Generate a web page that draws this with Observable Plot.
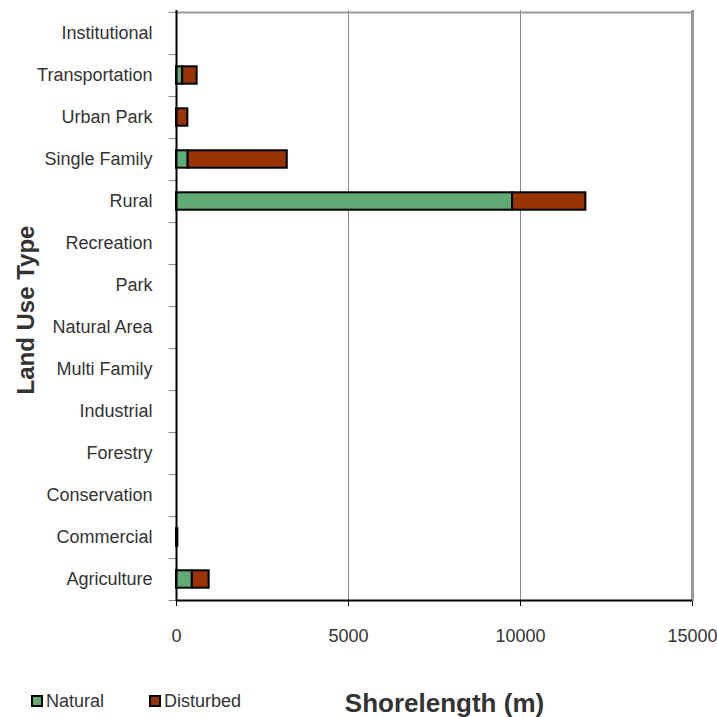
<!DOCTYPE html>
<html>
<head>
<meta charset="utf-8">
<script src="https://cdn.jsdelivr.net/npm/d3@7"></script>
<script src="https://cdn.jsdelivr.net/npm/@observablehq/plot@0.6"></script>
<style>
  body { margin: 0; background: #fff; }
  #wrap { position: relative; width: 717px; height: 717px; font-family: "Liberation Sans", Arial, sans-serif; color: #333; }
  .leg { position: absolute; top: 689px; font-size: 18px; line-height: 24px; display: flex; align-items: center; }
  .sw { display: inline-block; width: 8px; height: 8px; border: 2px solid #000; margin-right: 3px; }
</style>
</head>
<body>
<div id="wrap"></div>
<script>
const categories = ["Institutional", "Transportation", "Urban Park", "Single Family", "Rural", "Recreation", "Park", "Natural Area", "Multi Family", "Industrial", "Forestry", "Conservation", "Commercial", "Agriculture"];
const natural   = [0, 180, 0, 340, 9770, 0, 0, 0, 0, 0, 0, 0, 0, 460];
const disturbed = [0, 420, 330, 2880, 2130, 0, 0, 0, 0, 0, 0, 0, 40, 490];
const series = ["Natural", "Disturbed"];
const seriesColors = ["#60aa73", "#993300"];
const xTicks = [0, 5000, 10000, 15000];

const rows = [];
categories.forEach((c, i) => {
  rows.push({type: c, series: "Natural", value: natural[i]});
  rows.push({type: c, series: "Disturbed", value: disturbed[i]});
});
const data = rows.filter(d => d.value > 0);

const font = "'Liberation Sans', Arial, sans-serif";
const H = 717, mTop = 10, mBottom = 116;
const step = (H - mTop - mBottom) / categories.length;

const chart = Plot.plot({
  width: 717,
  height: H,
  marginLeft: 176,
  marginRight: 25,
  marginTop: mTop,
  marginBottom: mBottom,
  style: {fontFamily: font, fontSize: "18px", color: "#333", background: "#fff"},
  x: {domain: [0, 15000]},
  y: {domain: categories, padding: 0},
  color: {domain: series, range: seriesColors},
  marks: [
    Plot.ruleX([5000, 10000], {stroke: "#888", strokeWidth: 1}),
    Plot.ruleX([15000], {stroke: "#999", strokeWidth: 3}),
    Plot.ruleY([categories[0]], {dy: -step / 2, stroke: "#999", strokeWidth: 2}),
    Plot.barX(data, Plot.stackX({
      x: "value", y: "type", fill: "series",
      order: series,
      stroke: "#000", strokeWidth: 2,
      insetTop: 12.3, insetBottom: 12.3
    })),
    // band boundary ticks on the y axis
    Plot.ruleY(categories, {x1: -220, x2: 0, dy: step / 2, stroke: "#888", strokeWidth: 1}),
    Plot.ruleY([categories[0]], {x1: -220, x2: 0, dy: -step / 2, stroke: "#888", strokeWidth: 1}),
    Plot.ruleX([0], {stroke: "#000", strokeWidth: 2}),
    Plot.ruleY([categories[categories.length - 1]], {dy: step / 2, stroke: "#000", strokeWidth: 2}),
    Plot.axisY({tickSize: 0, tickPadding: 24, label: null, fontSize: 18, fill: "#333"}),
    Plot.axisX({ticks: xTicks, tickFormat: d3.format("d"), tickSize: 5, tickPadding: 23, label: null, fontSize: 18, fill: "#333", stroke: "#000"}),
    Plot.text(["Land Use Type"], {frameAnchor: "left", textAnchor: "middle", dx: -150, dy: 4, rotate: -90, fontSize: 24, fontWeight: "bold", fontFamily: font, fill: "#333"}),
    Plot.text(["Shorelength (m)"], {frameAnchor: "bottom", dx: 10, dy: 110, fontSize: 26, fontWeight: "bold", fontFamily: font, fill: "#333"})
  ]
});
const wrap = document.getElementById("wrap");
wrap.appendChild(chart);

// legend
const legX = [31, 149];
series.forEach((s, i) => {
  const el = document.createElement("div");
  el.className = "leg";
  el.style.left = legX[i] + "px";
  const sw = document.createElement("span");
  sw.className = "sw";
  sw.style.background = seriesColors[i];
  el.appendChild(sw);
  el.appendChild(document.createTextNode(s));
  wrap.appendChild(el);
});
</script>
</body>
</html>
